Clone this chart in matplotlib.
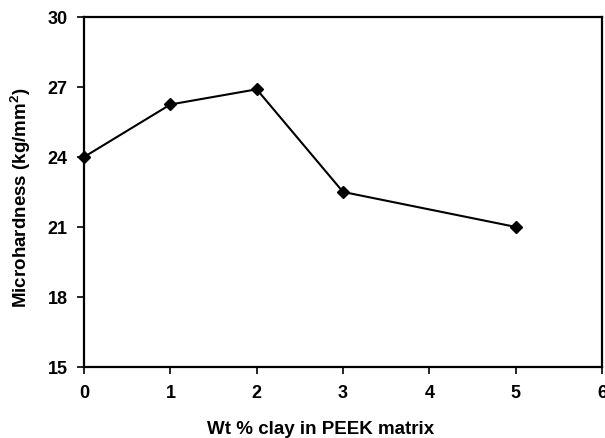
import matplotlib
matplotlib.use("Agg")
import matplotlib.pyplot as plt

wt_clay = [0, 1, 2, 3, 5]
hardness = [24.0, 26.25, 26.9, 22.5, 21.0]
x_ticks = [0, 1, 2, 3, 4, 5, 6]
y_ticks = [15, 18, 21, 24, 27, 30]

plt.rcParams['font.family'] = ['Liberation Sans', 'DejaVu Sans']
plt.rcParams['mathtext.fontset'] = 'custom'
plt.rcParams['mathtext.bf'] = 'Liberation Sans:bold'
plt.rcParams['mathtext.rm'] = 'Liberation Sans:bold'

fig = plt.figure(figsize=(6.05, 4.39), dpi=100)
ax = fig.add_axes([0.139, 0.162, 0.856, 0.797])
ax.plot(wt_clay, hardness, color='black', linewidth=1.5, marker='D', markersize=6.5,
        markerfacecolor='black', markeredgecolor='black', clip_on=False, zorder=3)
ax.set_xlim(0, 6)
ax.set_ylim(15, 30)
ax.set_xticks(x_ticks)
ax.set_yticks(y_ticks)
for s in ax.spines.values():
    s.set_linewidth(1.6)
    s.set_color('black')
ax.tick_params(direction='out', length=5, width=1.2, labelsize=13, pad=7)
for lab in ax.get_xticklabels() + ax.get_yticklabels():
    lab.set_fontweight('bold')
ax.set_xlabel('Wt % clay in PEEK matrix', fontsize=13.5, fontweight='bold')
ax.set_ylabel(r'Microhardness (kg/mm$^{\mathbf{2}}$)', fontsize=13.5, fontweight='bold')
ax.xaxis.set_label_coords(0.456, -0.152)
ax.yaxis.set_label_coords(-0.098, 0.487)
fig.savefig('out.png', dpi=100)
